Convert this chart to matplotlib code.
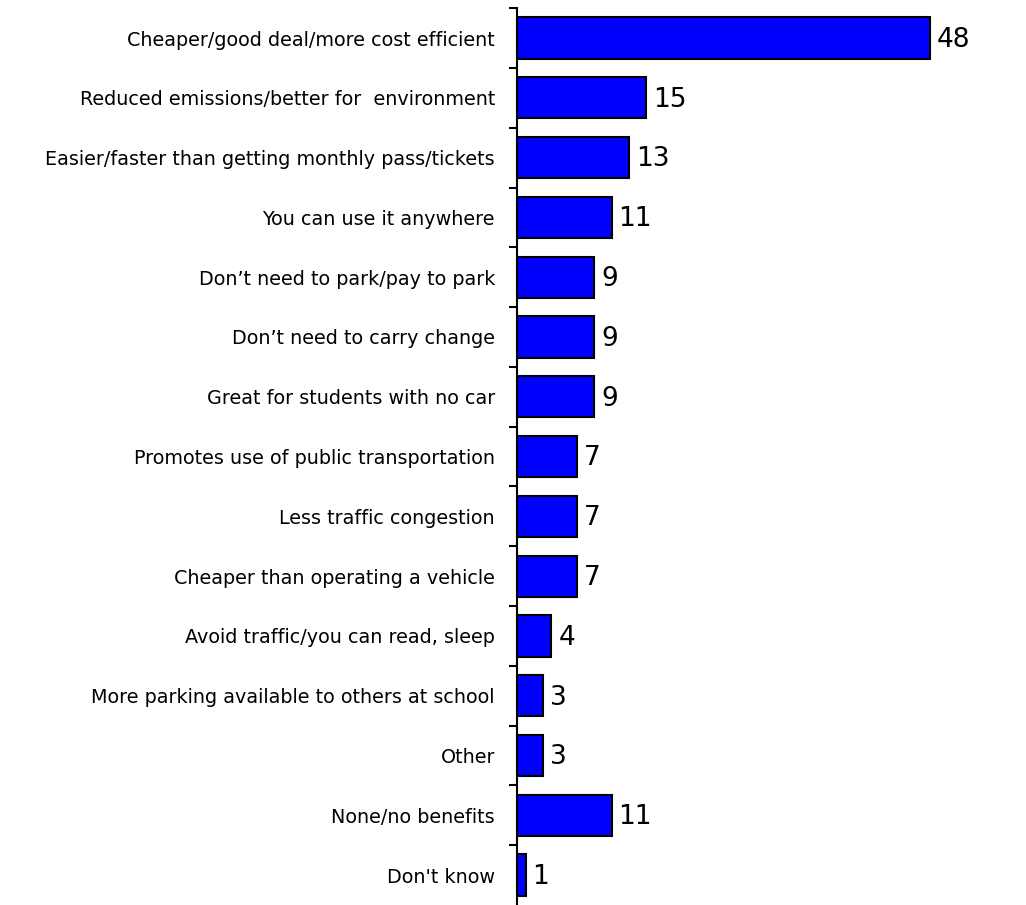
import numpy as np
import matplotlib.pyplot as plt
from matplotlib.ticker import FixedLocator

categories = [
    "Cheaper/good deal/more cost efficient",
    "Reduced emissions/better for  environment",
    "Easier/faster than getting monthly pass/tickets",
    "You can use it anywhere",
    "Don\u2019t need to park/pay to park",
    "Don\u2019t need to carry change",
    "Great for students with no car",
    "Promotes use of public transportation",
    "Less traffic congestion",
    "Cheaper than operating a vehicle",
    "Avoid traffic/you can read, sleep",
    "More parking available to others at school",
    "Other",
    "None/no benefits",
    "Don't know",
]
values = [48, 15, 13, 11, 9, 9, 9, 7, 7, 7, 4, 3, 3, 11, 1]

fig = plt.figure(figsize=(10.26, 9.05), dpi=100)
ax = fig.add_axes([0.504, 0.0, 0.496, 0.991])

y = np.arange(len(categories))
ax.barh(y, values, height=0.69, color="#0000FF", edgecolor="black", linewidth=1.5)

# value labels to the right of each bar
for yi, v in zip(y, values):
    ax.text(v + 0.8, yi + 0.03, str(v), va="center", ha="left", fontsize=19)

ax.set_xlim(0, 59.2)
ax.set_ylim(len(categories) - 0.5, -0.5)

ax.set_yticks(y)
ax.set_yticklabels(categories, fontsize=13.8)
ax.yaxis.set_minor_locator(FixedLocator(np.arange(-0.5, len(categories) - 1, 1.0)))
ax.tick_params(axis="y", which="major", length=0, pad=16)
ax.tick_params(axis="y", which="minor", length=6, width=1.5, direction="out")
ax.set_xticks([])

for side in ["top", "right", "bottom"]:
    ax.spines[side].set_visible(False)
ax.spines["left"].set_linewidth(1.5)

fig.savefig("out.png", dpi=100)
